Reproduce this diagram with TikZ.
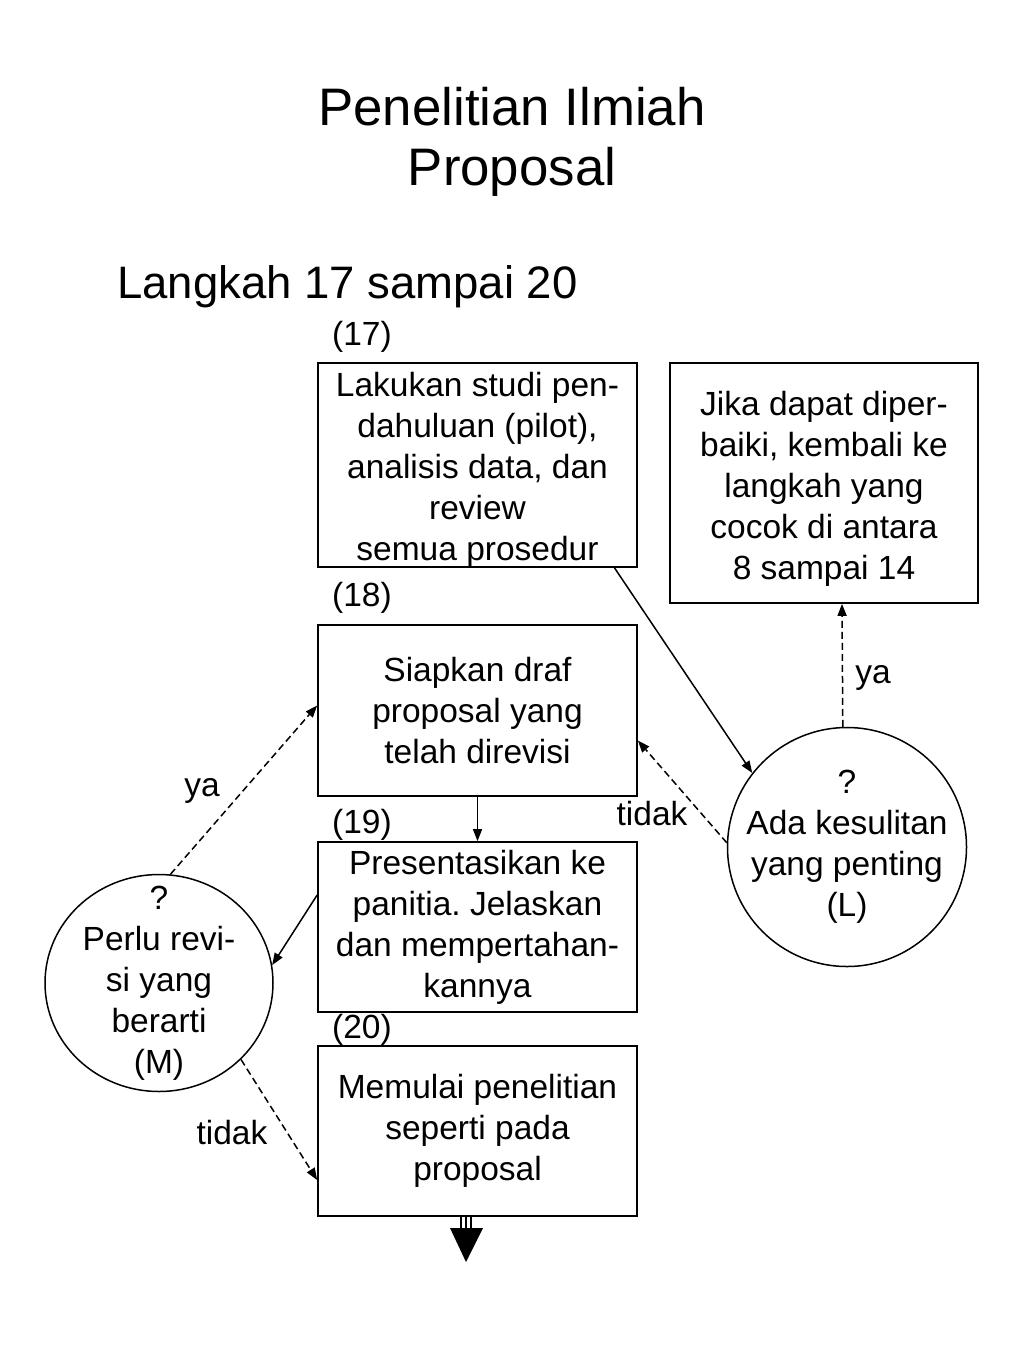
\documentclass[tikz,border=0pt]{standalone}
\usepackage{fontspec}
\setmainfont{Liberation Sans}
\usetikzlibrary{arrows.meta,calc,shapes.geometric}
\frenchspacing
\begin{document}
\begin{tikzpicture}[x=1pt,y=-1pt,
  txt/.style={font=\fontsize{33.5}{41}\selectfont, align=center, inner sep=0pt},
  stepbox/.style={txt, draw, line width=1.7pt, minimum width=319pt},
  decis/.style={draw, ellipse, line width=1.5pt, inner sep=0pt},
  lbl/.style={font=\fontsize{33.5}{41}\selectfont, inner sep=0pt},
  conn/.style={line width=1.5pt, -{Triangle[length=12pt,width=9pt]}},
  dconn/.style={conn, dash pattern=on 7pt off 4pt}]
\useasboundingbox (0,0) rectangle (1024,1365);
% titles
\node[font=\fontsize{52.8}{60}\selectfont, align=center, inner sep=0pt] (title) at (512,142) {Penelitian Ilmiah\\Proposal};
\node[font=\fontsize{45.5}{52}\selectfont, anchor=west, inner sep=0pt] (sub) at (117,287) {Langkah 17 sampai 20};
% step labels
\node[lbl, anchor=west] (n17) at (332,337) {(17)};
\node[lbl, anchor=west] (n18) at (332,598) {(18)};
\node[lbl, anchor=west] (n19) at (332,825) {(19)};
\node[lbl, anchor=west] (n20) at (332,1030) {(20)};
% boxes
\node[stepbox, minimum height=204pt,
  label={[txt,yshift=-5pt]center:{Lakukan studi pen-\\dahuluan (pilot),\\analisis data, dan\\review\\semua prosedur}}] (b17) at (477.5,465) {};
\node[stepbox, minimum height=171pt] (b18) at (477.5,710.5) {Siapkan draf\\proposal yang\\telah direvisi};
\node[stepbox, minimum height=170pt] (b19) at (477.5,927) {Presentasikan ke\\panitia. Jelaskan\\dan mempertahan-\\kannya};
\node[stepbox, minimum height=170pt] (b20) at (477.5,1131) {Memulai penelitian\\seperti pada\\proposal};
\node[stepbox, minimum width=308pt, minimum height=240pt,
  label={[txt,yshift=-6pt]center:{Jika dapat diper-\\baiki, kembali ke\\langkah yang\\cocok di antara\\8 sampai 14}}] (bR) at (824,483) {};
% decisions
\node[decis, minimum width=239pt, minimum height=239pt,
  label={[txt]center:{?\\Ada kesulitan\\yang penting\\(L)}}] (cR) at (847,847) {};
\node[decis, minimum width=228pt, minimum height=217pt,
  label={[txt]center:{?\\Perlu revi-\\si yang\\berarti\\(M)}}] (cL) at (159,983) {};
% connectors
\draw[conn] ($(b17.south)+(137,0)$) -- (cR.142);
\draw[conn] (b18.south) -- (b19.north);
\draw[dconn] (cR.178) -- ($(b18.east)+(0,30)$);
\draw[dconn] (cR.92) -- ($(bR.south)+(18,0)$);
\draw[conn] ($(b19.west)+(0,-32)$) -- (cL.9);
\draw[dconn] (cL.84) -- ($(b18.west)+(0,-5)$);
\draw[dconn] (cL.-43) -- ($(b20.west)+(0,49)$);
% connector labels
\node[lbl] (ya1) at (873,678) {ya};
\node[lbl] (tidak1) at (652,814) {tidak};
\node[lbl] (ya2) at (202,791) {ya};
\node[lbl] (tidak2) at (232,1133) {tidak};
% bottom continuation arrow
\coordinate (tip) at (466,1262);
\foreach \dx in {-5,0,5} {
  \draw[line width=1.2pt] ($(b20.south)+(-11.5+\dx,0)$) -- ($(b20.south)+(-11.5+\dx,12)$);
}
\fill ($(tip)+(-16,-34)$) -- ($(tip)+(17,-34)$) -- (tip) -- cycle;
\end{tikzpicture}
\end{document}
